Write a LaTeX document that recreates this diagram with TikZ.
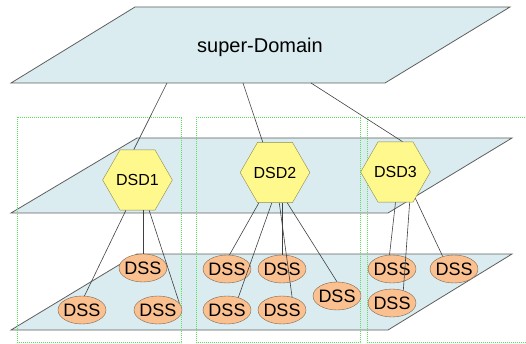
\documentclass[tikz,border=0pt]{standalone}
\usepackage{fontspec}
\setmainfont{Liberation Sans}
\definecolor{PlaneBlue}{RGB}{218,236,240}
\definecolor{PlaneEdge}{RGB}{95,95,95}
\definecolor{HexYellow}{RGB}{255,248,140}
\definecolor{HexEdge}{RGB}{140,140,80}
\definecolor{SsOrange}{RGB}{250,192,144}
\definecolor{SsEdge}{RGB}{125,100,75}
\definecolor{ZoneGreen}{RGB}{90,225,90}
\usetikzlibrary{shapes.geometric}

\begin{document}
\begin{tikzpicture}[
    x=1pt, y=-1pt,
    plane/.style={draw=PlaneEdge, fill=PlaneBlue, line width=0.8pt},
    zone/.style={draw=ZoneGreen, dash pattern=on 1pt off 1pt, line width=1pt},
    dsd/.style={regular polygon, regular polygon sides=6, minimum size=61pt,
                inner sep=0pt, draw=HexEdge, fill=HexYellow,
                font=\fontsize{16}{18}\selectfont},
    dss/.style={ellipse, minimum width=48pt, minimum height=28pt,
                inner xsep=-3pt, inner ysep=0pt, draw=SsEdge, fill=SsOrange,
                font=\fontsize{18}{20}\selectfont},
    link/.style={draw=black!75, line width=0.6pt}
  ]
    \useasboundingbox (0,0) rectangle (526,344);

    % Planes
    \draw[plane] (11,83) -- (135,7) -- (510,7) -- (385,83) -- cycle;
    \draw[plane] (11,213) -- (137,138) -- (512,138) -- (388,213) -- cycle;
    \draw[plane] (11,330) -- (137,254) -- (512,254) -- (388,330) -- cycle;

    % Zones
    \draw[zone] (17.5,117.5) rectangle (181.5,342.5);
    \draw[zone] (196.5,117.5) rectangle (360.5,342.5);
    \draw[zone] (367.5,117.5) rectangle (540,342.5);

    % super-Domain
    \node[font=\fontsize{20}{22}\selectfont] (super) at (260,47) {super-Domain};
    \coordinate (up1) at (167,83);
    \coordinate (up2) at (243,83);
    \coordinate (up3) at (311,83);

    % DSD row
    \node[dsd] (dsd1) at (137.5,180) {DSD1};
    \node[dsd] (dsd2) at (275,172.5) {DSD2};
    \node[dsd] (dsd3) at (395.5,172) {DSD3};

    % DSS row
    \node[dss] (dss11) at (143,268) {DSS};
    \node[dss] (dss12) at (82,310)  {DSS};
    \node[dss] (dss13) at (158,310) {DSS};

    \node[dss] (dss21) at (227,269) {DSS};
    \node[dss] (dss22) at (282,269) {DSS};
    \node[dss] (dss23) at (227,310) {DSS};
    \node[dss] (dss24) at (282,310) {DSS};
    \node[dss] (dss25) at (337,296) {DSS};

    \node[dss] (dss31) at (392,269) {DSS};
    \node[dss] (dss32) at (454,269) {DSS};
    \node[dss] (dss33) at (392,303) {DSS};

    % Links super-Domain -> DSD
    \draw[link] (up1) -- (dsd1.97);
    \draw[link] (up2) -- (dsd2.112);
    \draw[link] (up3) -- (dsd3.77);

    % Links DSD -> DSS
    \draw[link] (dsd1.-111) -- (dss12.80);
    \draw[link] (dss11.north) -- (dss11.north |- dsd1.south);
    \draw[link] (dsd1.-69) -- (dss13.17);

    \draw[link] (dsd2.-118) -- (dss21.80);
    \draw[link] (dsd2.-96) -- (dss23.48);
    \draw[link] (dss22.north) -- (dss22.north |- dsd2.south);
    \draw[link] (dsd2.-82) -- (dss24.52);
    \draw[link] (dsd2.-68) -- (dss25.north);

    \draw[link] (dsd3.south) -- (dss31.100);
    \draw[link] (dsd3.-65) -- (dss33.48);
    \draw[link] (dsd3.-53) -- (dss32.132);
  \end{tikzpicture}
\end{document}
